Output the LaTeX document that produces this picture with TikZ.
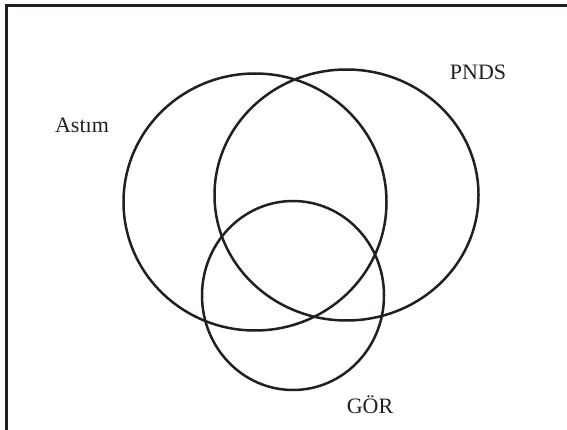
\documentclass[tikz,border=0pt]{standalone}
\usepackage{fontspec}
\setmainfont{Liberation Serif}
\begin{document}
\begin{tikzpicture}[x=1pt,y=-1pt,
  set/.style={line width=2.5pt,draw={rgb,255:red,35;green,31;blue,32}},
  lbl/.style={font=\fontsize{22}{26}\selectfont,text={rgb,255:red,35;green,31;blue,32},inner sep=0pt}]
  \useasboundingbox (0,0) rectangle (567,430);
  % frame (open at right and bottom)
  \draw[line width=2.2pt,draw={rgb,255:red,35;green,31;blue,32}] (6.5,440) -- (6.5,5.5) -- (580,5.5);
  % sets
  \draw[set] (255,202) ellipse [x radius=131.5, y radius=128.5];
  \draw[set] (346.5,195) ellipse [x radius=132, y radius=125.5];
  \draw[set] (293,295.5) ellipse [x radius=91, y radius=94.5];
  % labels
  \node[lbl] (astim) at (82,125) {Astım};
  \node[lbl] (pnds) at (478,72) {PNDS};
  \node[lbl] (gor) at (370,405) {GÖR};
\end{tikzpicture}
\end{document}
